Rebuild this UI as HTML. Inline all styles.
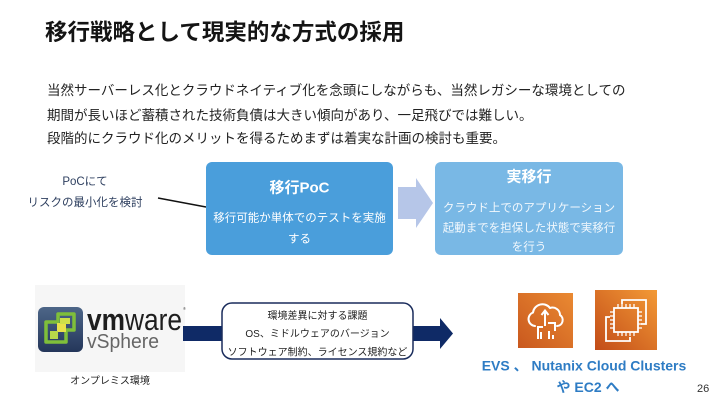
<!DOCTYPE html>
<html>
<head>
<meta charset="utf-8">
<style>
  html, body { margin:0; padding:0; background:#ffffff; }
  body { width:720px; height:405px; overflow:hidden; }
  svg { display:block; font-family:"Liberation Sans","Noto Sans CJK JP",sans-serif; }
</style>
</head>
<body>
<svg width="720" height="405" viewBox="0 0 720 405" xmlns="http://www.w3.org/2000/svg">
  <defs>
    <linearGradient id="vmg" x1="0" y1="0" x2="0" y2="1">
      <stop offset="0" stop-color="#4d6688"/>
      <stop offset="1" stop-color="#24365a"/>
    </linearGradient>
    <linearGradient id="aws1" x1="0" y1="1" x2="1" y2="0">
      <stop offset="0" stop-color="#c9581e"/>
      <stop offset="1" stop-color="#ea8a32"/>
    </linearGradient>
    <linearGradient id="aws2" x1="0" y1="1" x2="1" y2="0">
      <stop offset="0" stop-color="#c24c18"/>
      <stop offset="1" stop-color="#f39a36"/>
    </linearGradient>
  </defs>

  <rect x="0" y="0" width="720" height="405" fill="#ffffff"/>

  <!-- Title -->
  <text x="45" y="40" font-size="22.5" font-weight="bold" fill="#141414">移行戦略として現実的な方式の採用</text>

  <!-- Body -->
  <g font-size="13.5" fill="#222222">
    <text x="47" y="95">当然サーバーレス化とクラウドネイティブ化を念頭にしながらも、当然レガシーな環境としての</text>
    <text x="47" y="120">期間が長いほど蓄積された技術負債は大きい傾向があり、一足飛びでは難しい。</text>
    <text x="47" y="143">段階的にクラウド化のメリットを得るためまずは着実な計画の検討も重要。</text>
  </g>

  <!-- Left label -->
  <g font-size="11.5" fill="#2f4060" text-anchor="middle">
    <text x="85" y="185">PoCにて</text>
    <text x="85" y="206">リスクの最小化を検討</text>
  </g>
  <line x1="158" y1="198" x2="206" y2="207" stroke="#111" stroke-width="1.5"/>

  <!-- PoC box -->
  <rect x="206" y="162" width="187" height="93" rx="6" fill="#4a9edb"/>
  <text x="299.5" y="192.5" font-size="15" font-weight="bold" fill="#ffffff" text-anchor="middle">移行PoC</text>
  <g font-size="11.5" fill="#ffffff" text-anchor="middle">
    <text x="299.5" y="221.5">移行可能か単体でのテストを実施</text>
    <text x="299.5" y="242.5">する</text>
  </g>

  <!-- light arrow -->
  <polygon points="398,187 416,187 416,178 433,203 416,228 416,219 398,219" fill="#b6c6e8"/>

  <!-- second box -->
  <rect x="435" y="162" width="188" height="93" rx="6" fill="#79b8e5"/>
  <text x="529" y="181.5" font-size="15" font-weight="bold" fill="#ffffff" text-anchor="middle">実移行</text>
  <g font-size="11.5" fill="#f2f8fd" text-anchor="middle">
    <text x="529" y="211.5">クラウド上でのアプリケーション</text>
    <text x="529" y="231.5">起動までを担保した状態で実移行</text>
    <text x="529" y="250.5">を行う</text>
  </g>

  <!-- VMware logo area -->
  <rect x="35" y="285" width="150" height="87" fill="#f6f6f6"/>
  <rect x="38" y="307" width="45" height="45" rx="6" fill="url(#vmg)"/>
  <!-- vsphere icon shapes -->
  <path d="M46,322 h12 v-8 h16 v16 h-8 v12 h-20 z" fill="none" stroke="#7fbf3a" stroke-width="3.5" stroke-linejoin="round"/>
  <rect x="57" y="323" width="9" height="9" fill="#e9e24a"/>
  <rect x="60" y="318" width="10" height="6" fill="#cfe04a"/>
  <rect x="50" y="331" width="8" height="8" fill="#b8d84a"/>
  <text x="87" y="330" font-size="31" fill="#1e1e1e" textLength="95" lengthAdjust="spacingAndGlyphs"><tspan font-weight="bold">vm</tspan>ware</text>
  <text x="183" y="310" font-size="4" fill="#444">®</text>
  <text x="87" y="348" font-size="20" fill="#666666" textLength="72" lengthAdjust="spacingAndGlyphs">vSphere</text>
  <text x="110" y="384" font-size="10" fill="#222222" text-anchor="middle">オンプレミス環境</text>

  <!-- dark arrow -->
  <rect x="183" y="326" width="258" height="15" fill="#0f2a66"/>
  <polygon points="440,318 453,333.5 440,349" fill="#0f2a66"/>
  <rect x="222" y="303" width="191" height="56" rx="10" fill="#ffffff" stroke="#1a2c5c" stroke-width="1.5"/>
  <g font-size="10" fill="#222222" text-anchor="middle">
    <text x="317.5" y="319">環境差異に対する課題</text>
    <text x="317.5" y="337">OS、ミドルウェアのバージョン</text>
    <text x="317.5" y="355.5">ソフトウェア制約、ライセンス規約など</text>
  </g>

  <!-- AWS icon 1 -->
  <g transform="translate(518,293)">
    <rect x="0" y="0" width="55" height="55" fill="url(#aws1)"/>
    <path d="M17,33 a7,7 0 0 1 -2,-13.5 a9.5,9.5 0 0 1 17,-4.5 a7.5,7.5 0 0 1 10,7 a6,6 0 0 1 -3,11" fill="none" stroke="#fff" stroke-width="2" stroke-linecap="round"/>
    <line x1="27" y1="33" x2="27" y2="18" stroke="#fff" stroke-width="2"/>
    <polyline points="23.5,22 27,17.5 30.5,22" fill="none" stroke="#fff" stroke-width="2"/>
    <path d="M20,46 v-12 h5" fill="none" stroke="#fff" stroke-width="2"/>
    <path d="M30,30 h7 v8" fill="none" stroke="#fff" stroke-width="2"/>
    <line x1="23" y1="39" x2="23" y2="46" stroke="#fff" stroke-width="2"/>
    <line x1="31" y1="38" x2="31" y2="46" stroke="#fff" stroke-width="2"/>
    <line x1="35" y1="42" x2="35" y2="46" stroke="#fff" stroke-width="2"/>
  </g>

  <!-- AWS icon 2 (EC2) -->
  <g transform="translate(595,290)">
    <rect x="0" y="0" width="62" height="60" fill="url(#aws2)"/>
    <path d="M27,14 v-4 h24 v24 h-5" fill="none" stroke="#fff" stroke-width="1.8"/>
    <path d="M15,27 h-4 v24 h24 v-4" fill="none" stroke="#fff" stroke-width="1.8"/>
    <rect x="19" y="18" width="24" height="24" fill="none" stroke="#fff" stroke-width="1.8"/>
    <g stroke="#fff" stroke-width="1.3">
      <line x1="23" y1="14" x2="23" y2="18"/><line x1="27" y1="14" x2="27" y2="18"/><line x1="31" y1="14" x2="31" y2="18"/><line x1="35" y1="14" x2="35" y2="18"/><line x1="39" y1="14" x2="39" y2="18"/>
      <line x1="23" y1="42" x2="23" y2="46"/><line x1="27" y1="42" x2="27" y2="46"/><line x1="31" y1="42" x2="31" y2="46"/><line x1="35" y1="42" x2="35" y2="46"/><line x1="39" y1="42" x2="39" y2="46"/>
      <line x1="15" y1="22" x2="19" y2="22"/><line x1="15" y1="26" x2="19" y2="26"/><line x1="15" y1="30" x2="19" y2="30"/><line x1="15" y1="34" x2="19" y2="34"/><line x1="15" y1="38" x2="19" y2="38"/>
      <line x1="43" y1="22" x2="47" y2="22"/><line x1="43" y1="26" x2="47" y2="26"/><line x1="43" y1="30" x2="47" y2="30"/><line x1="43" y1="34" x2="47" y2="34"/><line x1="43" y1="38" x2="47" y2="38"/>
    </g>
  </g>

  <!-- AWS caption -->
  <g font-size="14" font-weight="bold" fill="#2e7cc4" text-anchor="middle">
    <text x="584" y="370.5">EVS 、 Nutanix Cloud Clusters</text>
    <text x="588" y="392">や EC2 へ</text>
  </g>

  <text x="697" y="392" font-size="11" fill="#333333">26</text>
</svg>
</body>
</html>
